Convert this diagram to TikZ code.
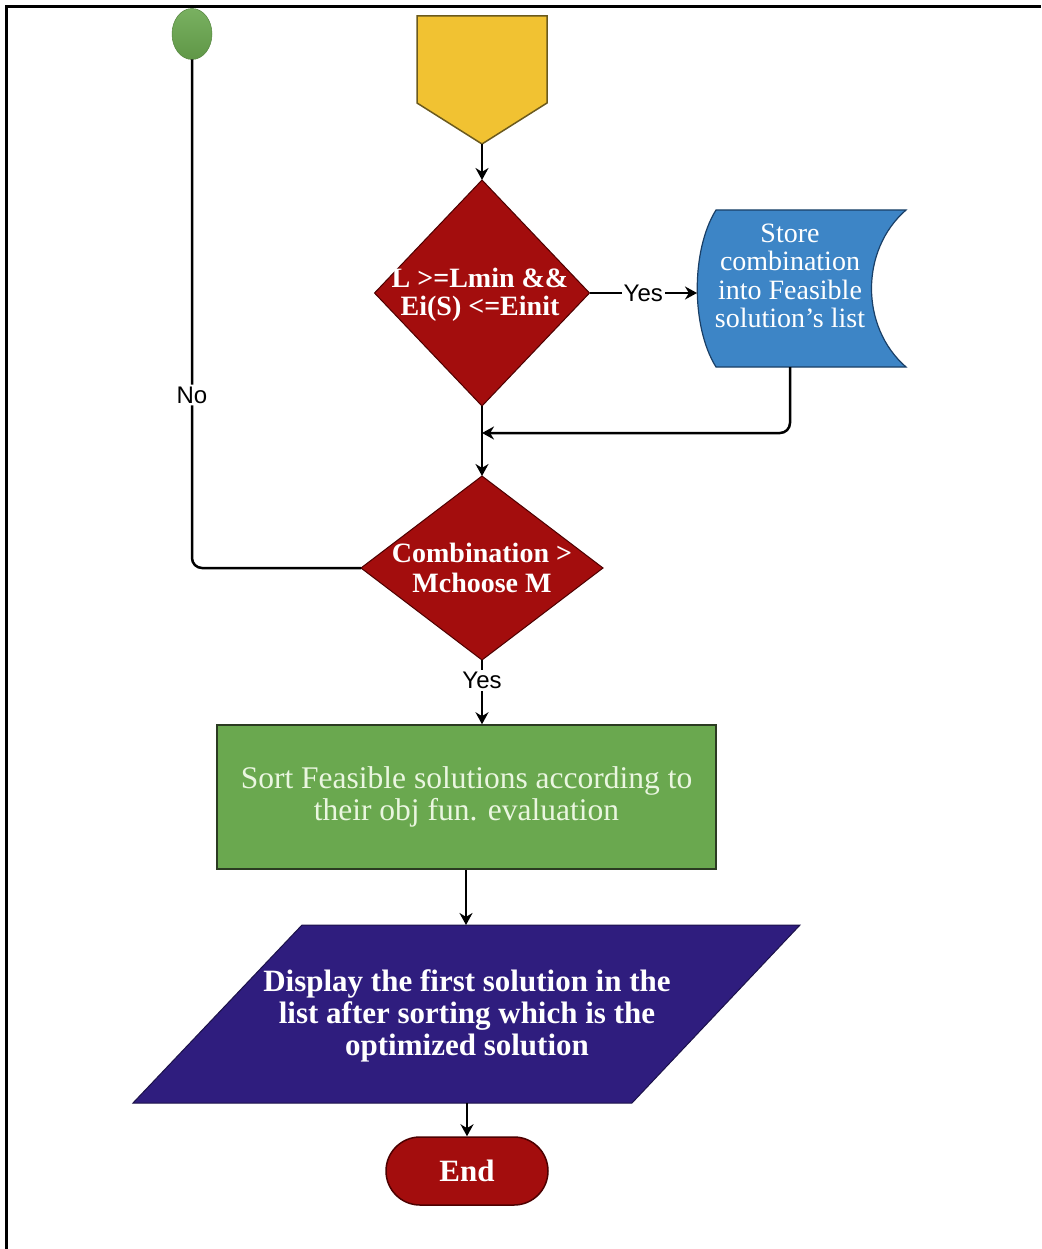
\documentclass[tikz,border=0pt]{standalone}
\usepackage{fontspec}
\setmainfont{Liberation Serif}
\setsansfont{Liberation Sans}
\usetikzlibrary{shapes.geometric,arrows.meta}

\definecolor{startgreen}{HTML}{6AA84F}
\definecolor{offyellow}{HTML}{F1C232}
\definecolor{offedge}{HTML}{6B5A1E}
\definecolor{decred}{HTML}{A30D0D}
\definecolor{decedge}{HTML}{4D0000}
\definecolor{storeblue}{HTML}{3D85C6}
\definecolor{storeedge}{HTML}{1A3F66}
\definecolor{sortgreen}{HTML}{6AA84F}
\definecolor{sortedge}{HTML}{2B3B22}
\definecolor{sorttext}{HTML}{EAF6E0}
\definecolor{dispblue}{HTML}{2F1D7E}
\definecolor{dispedge}{HTML}{1C124A}

\tikzset{
  conn/.style={line width=2.5pt, draw=black},
  arr/.style={conn, -{Stealth[length=12pt,width=13pt]}},
  lbl/.style={font=\sffamily\fontsize{24}{24}\selectfont, fill=white, inner sep=2pt},
  decision/.style={diamond, fill=decred, draw=decedge, line width=1pt, inner sep=0pt, outer sep=0pt},
  dectext/.style={text=white, align=center, inner sep=0pt, font=\bfseries\fontsize{28}{28}\selectfont},
  boxtext/.style={align=center, text=white, inner sep=0pt}
}

\begin{document}
\begin{tikzpicture}[x=1pt,y=-1pt]
\useasboundingbox (0,0) rectangle (1041,1249);

% page frame (top and left edges)
\draw[line width=3pt] (6,1249) -- (6,7) -- (1041,7);

% start connector
\node[ellipse, minimum width=40pt, minimum height=51pt, inner sep=0pt, outer sep=0pt,
      top color=startgreen!90!white, bottom color=startgreen!90!black, draw=startgreen!80!black, line width=0.5pt]
      (start) at (192,34) {};

% off-page entry connector
\draw[fill=offyellow, draw=offedge, line width=1.5pt]
  (417,16) -- (547,16) -- (547,103) -- (482,144) -- (417,103) -- cycle;
\coordinate (entry) at (482,144);

% first decision
\node[decision, minimum width=215pt, minimum height=226pt] (d1) at (482,293) {};
\node[dectext] (d1txt) at (480,295) {L >=Lmin \&\&\\Ei(S) <=Einit};

% stored data shape
\draw[fill=storeblue, draw=storeedge, line width=1.2pt]
  (716,210) -- (906,210) .. controls (860,250) and (860,327) .. (906,367)
  -- (716,367) .. controls (691,327) and (691,250) .. (716,210) -- cycle;
\node[boxtext, font=\fontsize{28}{28.5}\selectfont] (store) at (790,276)
  {Store\\combination\\into Feasible\\solution's list};
\coordinate (storeL) at (697,293);
\coordinate (storeB) at (790,367);
\coordinate (join) at (482,433);

% second decision
\node[decision, minimum width=242pt, minimum height=184pt] (d2) at (482,568) {};
\node[dectext, font=\bfseries\fontsize{28}{30}\selectfont] (d2txt) at (482,568) {Combination >\\Mchoose M};

% sorting process
\node[rectangle, fill=sortgreen, draw=sortedge, line width=1.5pt,
      minimum width=499pt, minimum height=144pt, align=center, text=sorttext,
      font=\fontsize{31.5}{32}\selectfont] (sort) at (466.5,797)
  {Sort Feasible solutions according to\\their obj fun. evaluation};

% display (input/output)
\draw[fill=dispblue, draw=dispedge, line width=1pt]
  (302,925) -- (800,925) -- (632,1103) -- (133,1103) -- cycle;
\node[boxtext, font=\bfseries\fontsize{31}{32}\selectfont] (disp) at (467,1016)
  {Display the first solution in the\\list after sorting which is the\\optimized solution};
\coordinate (dispT) at (466,925);
\coordinate (dispB) at (467,1103);

% terminator
\node[rectangle, rounded corners=34pt, fill=decred, draw=decedge, line width=1.5pt,
      minimum width=162pt, minimum height=68pt, text=white,
      font=\bfseries\fontsize{31}{32}\selectfont] (end) at (467,1171) {End};

% connectors
\draw[arr] (entry) -- (d1.north);
\draw[arr] (d1.east) -- node[lbl]{Yes} (storeL);
\draw[arr, rounded corners=10pt] (storeB) |- (join);
\draw[arr] (d1.south) -- (d2.north);
\draw[conn, rounded corners=10pt] (d2.west) -| node[lbl, pos=0.67]{No} (start.south);
\draw[arr] (d2.south) -- node[lbl, pos=0.32]{Yes} (d2.south |- sort.north);
\draw[arr] (sort.south -| dispT) -- (dispT);
\draw[arr] (dispB) -- (end.north);
\end{tikzpicture}
\end{document}
